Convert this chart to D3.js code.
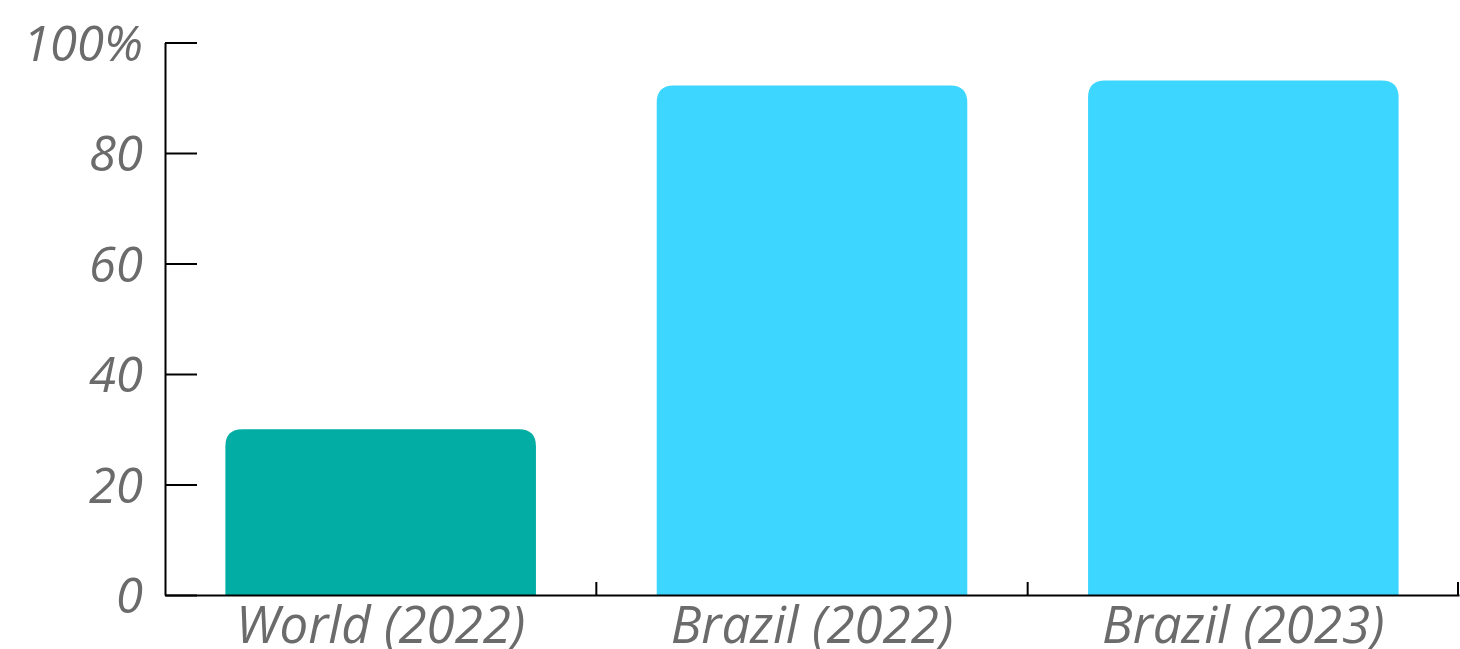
<!DOCTYPE html>
<html>
<head>
<meta charset="utf-8">
<script src="https://cdn.jsdelivr.net/npm/d3@7"></script>
<style>
  html, body { margin: 0; padding: 0; background: #ffffff; }
  svg text { font-family: "Open Sans", sans-serif; font-style: italic; fill: #6b6b6b; }
</style>
</head>
<body>
<svg id="chart" width="1460" height="649"></svg>
<script>
// Share of the population (%)
const categories = ["World (2022)", "Brazil (2022)", "Brazil (2023)"];
const values = [30, 92.2, 93.1];
const barColors = ["#02ada4", "#3dd6ff", "#3dd6ff"];
const yTicks = [0, 20, 40, 60, 80, 100];

const margin = { top: 42.5, right: 1, bottom: 54, left: 165 };
const W = 1460, H = 649;
const svg = d3.select("#chart");

const x = d3.scaleBand()
  .domain(categories)
  .range([margin.left, W - margin.right])
  .paddingInner(0.28)
  .paddingOuter(0.14);

const y = d3.scaleLinear()
  .domain([0, 100])
  .range([H - margin.bottom, margin.top]);

// bars with rounded top corners
function topRoundedRect(x0, y0, w, h, r) {
  r = Math.min(r, w / 2, h);
  return `M${x0},${y0 + h}V${y0 + r}Q${x0},${y0} ${x0 + r},${y0}` +
         `H${x0 + w - r}Q${x0 + w},${y0} ${x0 + w},${y0 + r}V${y0 + h}Z`;
}

svg.append("g")
  .selectAll("path")
  .data(categories)
  .join("path")
  .attr("fill", (d, i) => barColors[i])
  .attr("d", (d, i) => topRoundedRect(x(d), y(values[i]), x.bandwidth(), y(0) - y(values[i]), 17));

// y axis: ticks point into the plot, labels on the left
const yAxis = d3.axisLeft(y)
  .tickValues(yTicks)
  .tickSizeInner(-32)
  .tickSizeOuter(0)
  .tickPadding(22)
  .tickFormat(d => d === 100 ? "100%" : d);

const gy = svg.append("g")
  .attr("transform", `translate(${margin.left},0)`)
  .call(yAxis);
gy.select(".domain").attr("stroke", "#000").attr("stroke-width", 2);
gy.selectAll(".tick line").attr("stroke", "#000").attr("stroke-width", 2);
gy.selectAll(".tick text")
  .attr("font-size", 49)
  .attr("dy", "0.36em")
  .style("font-family", "'Open Sans', sans-serif")
  .style("font-style", "italic")
  .attr("fill", "#6b6b6b");

// x axis: category labels centred, divider ticks between bands
const xAxis = d3.axisBottom(x).tickSize(0).tickPadding(10).tickSizeOuter(0);
const gx = svg.append("g")
  .attr("transform", `translate(0,${y(0)})`)
  .call(xAxis);
gx.select(".domain").attr("stroke", "#000").attr("stroke-width", 2);
gx.selectAll(".tick text")
  .attr("font-size", 51)
  .attr("dy", "0.745em")
  .style("font-family", "'Open Sans', sans-serif")
  .style("font-style", "italic")
  .attr("fill", "#6b6b6b");

const bounds = categories.map((d, i) => x.range()[0] + x.step() * (i + 1) - (i === categories.length - 1 ? 1 : 0));
gx.selectAll(".divider")
  .data(bounds)
  .join("line")
  .attr("class", "divider")
  .attr("x1", d => d).attr("x2", d => d)
  .attr("y1", 0).attr("y2", -13)
  .attr("stroke", "#000")
  .attr("stroke-width", 2);
</script>
</body>
</html>
